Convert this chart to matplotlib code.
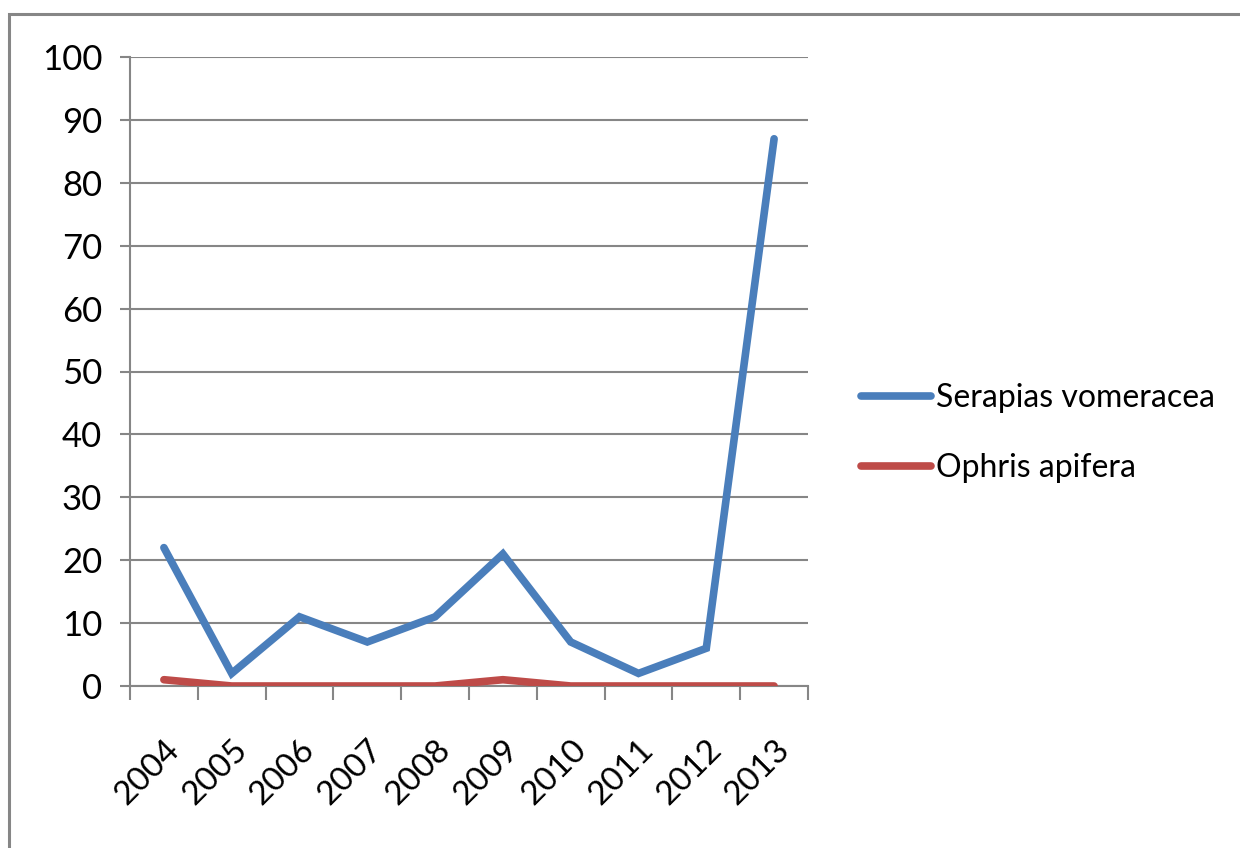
import matplotlib
matplotlib.use("Agg")
import matplotlib.pyplot as plt
from matplotlib.patches import Rectangle
import matplotlib.transforms as mtransforms
import numpy as np

years = ["2004", "2005", "2006", "2007", "2008", "2009", "2010", "2011", "2012", "2013"]
serapias = [22, 2, 11, 7, 11, 21, 7, 2, 6, 87]
ophris = [1, 0, 0, 0, 0, 1, 0, 0, 0, 0]

plt.rcParams['font.family'] = ['Lato', 'DejaVu Sans']

W, H = 1240, 848
fig = plt.figure(figsize=(W / 100, H / 100), dpi=100)
fig.patch.set_facecolor('white')

# outer frame
fig.patches.append(Rectangle((8.5 / W, -0.05), 1.1, 1 - 13.5 / H + 0.05,
                             transform=fig.transFigure, fill=False,
                             edgecolor='#868686', linewidth=2.2))

ax = fig.add_axes([130 / W, 1 - 686 / H, (808 - 130) / W, (686 - 57) / H])
x = np.arange(len(years))
ax.plot(x, serapias, color='#4A7EBB', linewidth=5.5, solid_capstyle='round',
        solid_joinstyle='miter', label='Serapias vomeracea', zorder=3)
ax.plot(x, ophris, color='#BE4B48', linewidth=5.5, solid_capstyle='round',
        label='Ophris apifera', zorder=3)

ax.set_xlim(-0.5, len(years) - 0.5)
ax.set_ylim(0, 100)
ax.set_yticks(np.arange(0, 101, 10))
ax.yaxis.grid(True, color='#868686', linewidth=1.5)
ax.set_axisbelow(True)

ax.set_xticks(x)
ax.set_xticklabels(years, rotation=45, ha='right', va='top',
                   rotation_mode='anchor', fontsize=24)
offset = mtransforms.ScaledTranslation(-6 / 100, 0, fig.dpi_scale_trans)
for lbl in ax.get_xticklabels():
    lbl.set_transform(lbl.get_transform() + offset)
ax.set_xticks(np.arange(-0.5, len(years), 1), minor=True)
ax.tick_params(axis='x', which='major', length=0, pad=35)
ax.tick_params(axis='x', which='minor', length=10, width=1.5, color='#868686')
ax.tick_params(axis='y', length=7, width=1.5, color='#868686', labelsize=25, pad=13)

for s in ['top', 'right']:
    ax.spines[s].set_visible(False)
for s in ['left', 'bottom']:
    ax.spines[s].set_color('#868686')
    ax.spines[s].set_linewidth(1.5)

leg = fig.legend(loc='upper left', bbox_to_anchor=(832 / W, 1 - 354 / H),
                 frameon=False, fontsize=23, handlelength=2.2,
                 handletextpad=0.15, labelspacing=1.25)

fig.savefig('out.png', dpi=100)
